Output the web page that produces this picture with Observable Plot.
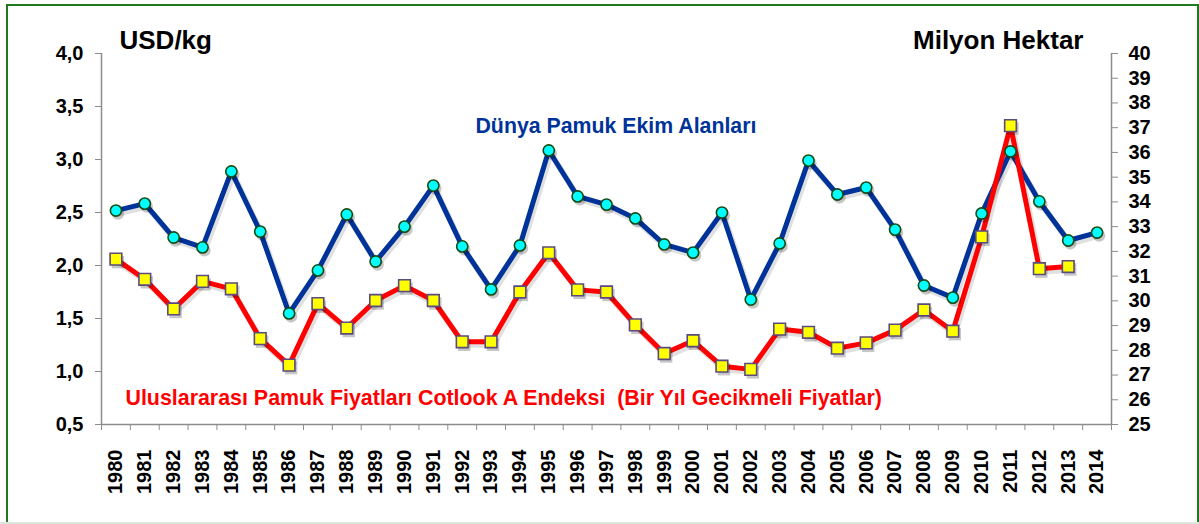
<!DOCTYPE html>
<html>
<head>
<meta charset="utf-8">
<script src="https://cdn.jsdelivr.net/npm/d3@7"></script>
<script src="https://cdn.jsdelivr.net/npm/@observablehq/plot@0.6"></script>
<style>
  html, body { margin: 0; padding: 0; background: #fff; }
  #wrap { position: relative; width: 1199px; height: 524px; overflow: hidden; }
  #frame { position: absolute; left: 6px; top: 4px; width: 1193px; height: 530px; box-sizing: border-box; border: 2px solid #1f7a1f; pointer-events: none; }
  #bottomline { position: absolute; left: 0; top: 522px; width: 1199px; height: 2px; background: #dde6dd; }
  svg text { white-space: pre; }
</style>
</head>
<body>
<div id="wrap"><div id="chart"></div><div id="frame"></div><div id="bottomline"></div></div>
<script>
const years = d3.range(1980, 2015);
// International cotton prices, Cotlook A index (one-year lagged), USD/kg
const prices = [2.06, 1.87, 1.59, 1.85, 1.78, 1.31, 1.06, 1.64, 1.41, 1.67,
                1.81, 1.67, 1.28, 1.28, 1.75, 2.12, 1.77, 1.75, 1.44, 1.17,
                1.29, 1.05, 1.02, 1.40, 1.37, 1.22, 1.27, 1.39, 1.58, 1.38,
                2.27, 3.32, 1.97, 1.99, null];
// World cotton area, million hectares
const areas = [33.65, 33.93, 32.56, 32.16, 35.23, 32.80, 29.49, 31.23, 33.49, 31.59,
               33.00, 34.66, 32.20, 30.46, 32.24, 36.08, 34.22, 33.89, 33.33, 32.28,
               31.95, 33.57, 30.05, 32.32, 35.67, 34.30, 34.58, 32.88, 30.62, 30.13,
               33.53, 36.04, 34.02, 32.44, 32.76];
const leftTicks = [0.5, 1.0, 1.5, 2.0, 2.5, 3.0, 3.5, 4.0];
const rightTicks = d3.range(25, 41);

const L0 = 0.5, L1 = 4.0, R0 = 25, R1 = 40;
const toLeft = v => L0 + (v - R0) / (R1 - R0) * (L1 - L0);
const fromLeft = v => R0 + (v - L0) / (L1 - L0) * (R1 - R0);

const priceData = years.map((y, i) => ({year: y, v: prices[i]})).filter(d => d.v != null);
const areaData = years.map((y, i) => ({year: y, v: toLeft(areas[i])}));

const FONT = "Liberation Sans, Arial, Helvetica, sans-serif";
const halfYears = d3.range(1979.5, 2015, 1);
const SH = {dx: 2, dy: 3};

const chart = Plot.plot({
  width: 1199,
  height: 524,
  marginLeft: 101,
  marginRight: 88,
  marginTop: 53,
  marginBottom: 100,
  style: {fontFamily: FONT, background: "transparent", overflow: "visible"},
  x: {domain: [1979.5, 2014.5]},
  y: {domain: [L0, L1]},
  marks: [
    // axis lines
    Plot.ruleX([1979.5, 2014.5], {stroke: "#8c8c8c", strokeWidth: 1.5}),
    Plot.ruleY([L0], {stroke: "#8c8c8c", strokeWidth: 1.5}),
    // left axis
    Plot.axisY({anchor: "left", ticks: leftTicks, tickSize: 6, tickPadding: 12,
      tickFormat: d => d.toFixed(1).replace(".", ","), stroke: "#8c8c8c",
      fontSize: 20, fontWeight: "bold", fill: "#000", label: null}),
    // right axis
    Plot.axisY({anchor: "right", ticks: rightTicks.map(toLeft), tickSize: 6, tickPadding: 11,
      tickFormat: d => String(Math.round(fromLeft(d))), stroke: "#8c8c8c",
      fontSize: 20, fontWeight: "bold", fill: "#000", label: null}),
    // x axis tick marks at year boundaries
    Plot.axisX({ticks: halfYears, tickSize: 6, tickFormat: () => "", stroke: "#8c8c8c", label: null}),
    // x axis labels
    Plot.axisX({ticks: years, tickSize: 0, tickPadding: 25, tickRotate: -90,
      tickFormat: d => String(d), fontSize: 20, fontWeight: "bold", fill: "#000", label: null}),
    // shadows
    Plot.line(areaData, {x: "year", y: "v", stroke: "#000", strokeOpacity: 0.12, strokeWidth: 6, ...SH}),
    Plot.line(priceData, {x: "year", y: "v", stroke: "#000", strokeOpacity: 0.12, strokeWidth: 6, ...SH}),
    // area line
    Plot.line(areaData, {x: "year", y: "v", stroke: "#003399", strokeWidth: 5}),
    // price line
    Plot.line(priceData, {x: "year", y: "v", stroke: "#ff0000", strokeWidth: 5}),
    Plot.dot(priceData, {x: "year", y: "v", symbol: "square", r: 7, fill: "#000", fillOpacity: 0.22, ...SH}),
    Plot.dot(areaData, {x: "year", y: "v", r: 6.2, fill: "#000", fillOpacity: 0.22, ...SH}),
    Plot.dot(priceData, {x: "year", y: "v", symbol: "square", r: 6.6, fill: "#ffff00", stroke: "#5a4a7e", strokeWidth: 1.6}),
    Plot.dot(areaData, {x: "year", y: "v", r: 5.6, fill: "#00ffff", stroke: "#154a15", strokeWidth: 1.6}),
    // series labels
    Plot.text(["Dünya Pamuk Ekim Alanları"], {x: 1992.46, y: 3.318, textAnchor: "start",
      fill: "#003399", fontSize: 21.3, fontWeight: "bold"}),
    Plot.text(["Uluslararası Pamuk Fiyatları Cotlook A Endeksi  (Bir Yıl Gecikmeli Fiyatlar)"],
      {x: 1980.33, y: 0.752, textAnchor: "start", fill: "#ff0000", fontSize: 21.4, fontWeight: "bold"}),
    // unit titles
    Plot.text(["USD/kg"], {frameAnchor: "top-left", dx: 18, dy: -23, textAnchor: "start",
      fill: "#000", fontSize: 26, fontWeight: "bold"}),
    Plot.text(["Milyon Hektar"], {frameAnchor: "top-right", dx: -28, dy: -23, textAnchor: "end",
      fill: "#000", fontSize: 26, fontWeight: "bold"})
  ]
});

document.getElementById("chart").appendChild(chart);
</script>
</body>
</html>
